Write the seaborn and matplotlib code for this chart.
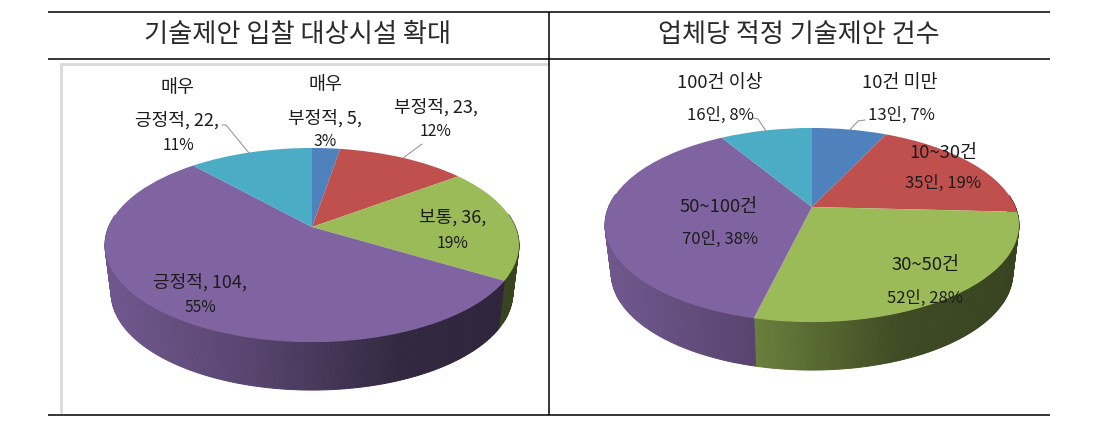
import numpy as np
import matplotlib
matplotlib.use("Agg")
import matplotlib.pyplot as plt
from matplotlib.transforms import Transform
import seaborn as sns

sns.set_theme(style="white")
plt.rcParams['font.family'] = ['Noto Sans CJK KR', 'DejaVu Sans']

# ---- data ----
left_title = "기술제안 입찰 대상시설 확대"
left_categories = ["매우 부정적", "부정적", "보통", "긍정적", "매우 긍정적"]
left_values = [5, 23, 36, 104, 22]
left_percents = [3, 12, 19, 55, 11]

right_title = "업체당 적정 기술제안 건수"
right_categories = ["10건 미만", "10~30건", "30~50건", "50~100건", "100건 이상"]
right_values = [13, 35, 52, 70, 16]
right_percents = [7, 19, 28, 38, 8]

colors = sns.color_palette(["#4F81BD", "#C0504D", "#9BBB59", "#8064A2", "#4BACC6"])

# ---- geometry of the page (pixels) ----
K = 0.1856
XS, YS = 203.4, 93.7
DEPTH = 48
LEFT_APEX = (312, 227)
RIGHT_APEX = (812, 207)


class Persp(Transform):
    """Projects the unit-circle pie onto a tilted disc."""
    input_dims = output_dims = 2
    is_separable = False
    has_inverse = False

    def __init__(self, cx, cy, xs=XS, ys=YS):
        super().__init__()
        self.cx, self.cy, self.xs, self.ys = cx, cy, xs, ys

    def transform_non_affine(self, pts):
        pts = np.asarray(pts, float)
        w = 1 + K * pts[:, 1]
        return np.column_stack([self.cx + self.xs * pts[:, 0] / w,
                                self.cy - self.ys * pts[:, 1] / w])


def shade(c, u):
    f = np.interp(u, [-1, -0.27, 0.43, 1], [0.88, 0.68, 0.40, 0.36])
    return tuple(np.array(c) * f)


fig = plt.figure(figsize=(11.06, 4.30), dpi=100, facecolor="white")
ax = fig.add_axes([0, 0, 1, 1])


def pie3d(values, apex):
    wedges, _ = ax.pie(values, colors=colors, startangle=90, counterclock=False,
                       wedgeprops=dict(linewidth=0))
    top = Persp(*apex)
    bottom = Persp(apex[0], apex[1] + DEPTH, XS * 0.97, YS)
    for wedge, col in zip(wedges, colors):
        a0, a1 = wedge.theta1, wedge.theta2
        n = max(int(a1 - a0), 1)
        ang = np.radians(np.linspace(a0, a1, n + 1))
        unit = np.column_stack([np.cos(ang), np.sin(ang)])
        pt, pb = top.transform(unit), bottom.transform(unit)
        for i in range(n):
            if unit[i, 1] > 0.12 and unit[i + 1, 1] > 0.12:
                continue
            quad = np.array([pt[i], pt[i + 1], pb[i + 1], pb[i]])
            c = shade(col, (quad[:, 0].mean() - apex[0]) / 207)
            ax.fill(quad[:, 0], quad[:, 1], color=c, linewidth=0.7, zorder=1)
        wedge.set_transform(top + ax.transData)
        wedge.set_zorder(3)


pie3d(left_values, LEFT_APEX)
pie3d(right_values, RIGHT_APEX)

ax.set_aspect("auto")
ax.set_xlim(0, 1106)
ax.set_ylim(430, 0)
ax.axis("off")

# table rules
for y in (12, 59, 415):
    ax.plot([48, 1050], [y, y], color="black", lw=1.1, zorder=6, solid_capstyle="butt")
ax.plot([548.5, 548.5], [12, 415], color="black", lw=1.1, zorder=6, solid_capstyle="butt")
# grey chart frame
ax.plot([61, 61, 548], [412, 63.5, 63.5], color="#D9D9D9", lw=2.0, zorder=0.5,
        solid_joinstyle="miter")

TXT = "#1c1c1c"
ax.text(297.5, 34, left_title, ha="center", va="center", fontsize=18.9, color="#2a2a2a",
        weight="light", zorder=7)
ax.text(798.5, 34, right_title, ha="center", va="center", fontsize=18.8, color="#2a2a2a",
        weight="light", zorder=7)


def lab(x, y, s, size=13):
    ax.text(x, y, s, ha="center", va="center", fontsize=size, color=TXT, zorder=7)


L, R = left_values, right_values
LP, RP = left_percents, right_percents
CAT, MID, PCT = 13.3, 12, 11.3
lab(178, 88, "매우", CAT)
lab(177, 120, f"긍정적, {L[4]},")
lab(178, 146, f"{LP[4]}%", PCT)
lab(325, 85, "매우", CAT)
lab(325, 118, f"부정적, {L[0]},")
lab(325, 142, f"{LP[0]}%", PCT)
lab(436, 107, f"{left_categories[1]}, {L[1]},")
lab(436, 132, f"{LP[1]}%", PCT)
lab(453, 218, f"{left_categories[2]}, {L[2]},")
lab(453, 243, f"{LP[2]}%", PCT)
lab(200, 282, f"{left_categories[3]}, {L[3]},")
lab(200, 307, f"{LP[3]}%", PCT)

lab(720, 83, right_categories[4], CAT)
lab(720, 115, f"{R[4]}인, {RP[4]}%", MID)
lab(900, 83, right_categories[0], CAT)
lab(901, 115, f"{R[0]}인, {RP[0]}%", MID)
lab(943, 153, right_categories[1], CAT)
lab(943, 183, f"{R[1]}인, {RP[1]}%", MID)
lab(925, 265, right_categories[2], CAT)
lab(925, 298, f"{R[2]}인, {RP[2]}%", MID)
lab(719, 207, right_categories[3], CAT)
lab(720, 239, f"{R[3]}인, {RP[3]}%", MID)

# leader lines
for xs, ys in [([222, 226, 249], [125, 125, 153]),
               ([422, 403], [144, 158]),
               ([753, 758, 766], [118, 119, 131]),
               ([865, 858, 849], [120, 121, 131])]:
    ax.plot(xs, ys, color="#8c8c8c", lw=0.7, zorder=6)

fig.savefig("out.png", dpi=100, facecolor="white")
